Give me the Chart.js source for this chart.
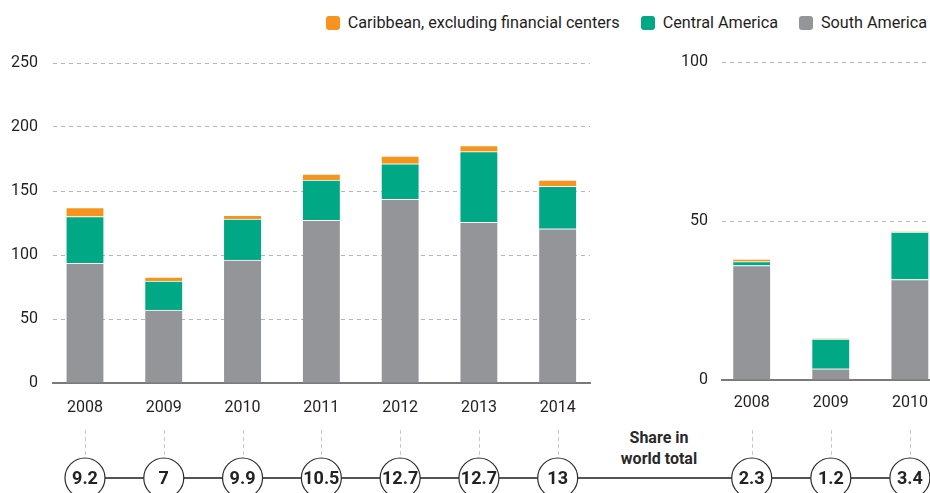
<!DOCTYPE html>
<html>
<head>
<meta charset="utf-8">
<script src="https://cdn.jsdelivr.net/npm/chart.js@4.4.1/dist/chart.umd.min.js"></script>
<style>
  html, body { margin: 0; padding: 0; background: #fff; }
  body { width: 930px; height: 493px; overflow: hidden; position: relative;
         font-family: Roboto, "Liberation Sans", sans-serif; color: #231f20; }
  #legend { position: absolute; top: 13px; right: 3px; display: flex; align-items: center; font-size: 16.2px; white-space: nowrap; color: #1e1e1e; }
  .item { display: flex; align-items: center; margin-left: 21px; }
  .sw { width: 14px; height: 14px; border-radius: 3px; margin-right: 8px; }
  #share { position: absolute; left: 609px; width: 100px; top: 427px; text-align: center; font-size: 16px; font-weight: bold; line-height: 21px; color: #2a2a2a; }
  canvas { position: absolute; top: 0; }
  #left { left: 0; }
  #right { left: 640px; }
</style>
</head>
<body>
<div id="legend"></div>
<div id="share">Share in<br>world total</div>
<canvas id="left" width="640" height="493"></canvas>
<canvas id="right" width="340" height="493"></canvas>
<script>
// ---------- data ----------
const seriesNames = ['Caribbean, excluding financial centers', 'Central America', 'South America'];
const seriesColors = ['#f7941d', '#00a886', '#939598'];

const yearsLeft = ['2008', '2009', '2010', '2011', '2012', '2013', '2014'];
const southAmericaLeft = [93.5, 57, 96, 127, 143.5, 125.5, 120.5];
const centralAmericaLeft = [36.5, 22.7, 32, 31.6, 27.8, 55.2, 33.1];
const caribbeanLeft = [7, 3.1, 3, 4.7, 6, 4.7, 5];
const shareLeft = [9.2, 7, 9.9, 10.5, 12.7, 12.7, 13];
const yTicksLeft = [0, 50, 100, 150, 200, 250];

const yearsRight = ['2008', '2009', '2010'];
const southAmericaRight = [36, 3.5, 31.6];
const centralAmericaRight = [1.2, 9.4, 14.9];
const caribbeanRight = [0.8, 0, 0];
const shareRight = [2.3, 1.2, 3.4];
const yTicksRight = [0, 50, 100];

// ---------- legend ----------
const legendEl = document.getElementById('legend');
seriesNames.forEach((n, i) => {
  const it = document.createElement('div'); it.className = 'item';
  const sw = document.createElement('div'); sw.className = 'sw'; sw.style.background = seriesColors[i];
  const tx = document.createElement('span'); tx.textContent = n;
  it.appendChild(sw); it.appendChild(tx); legendEl.appendChild(it);
});

const FONT = 'Roboto, "Liberation Sans", sans-serif';

const shareRowPlugin = {
  id: 'shareRow',
  afterDraw(chart, args, o) {
    const ctx = chart.ctx;
    const xs = chart.scales.x;
    const px = chart.data.labels.map(y => xs.getPixelForValue(Number(y)));
    const cy = o.cy, r = o.r;
    ctx.save();
    ctx.strokeStyle = '#c9c9c9'; ctx.lineWidth = 1; ctx.setLineDash([4, 3]);
    px.forEach(x => { const xx = Math.round(x) + 0.5; ctx.beginPath(); ctx.moveTo(xx, o.dashTop); ctx.lineTo(xx, cy - r); ctx.stroke(); });
    ctx.setLineDash([]);
    ctx.strokeStyle = '#555'; ctx.lineWidth = 2;
    ctx.beginPath();
    ctx.moveTo(o.fromEdge ? 0 : px[0], cy);
    ctx.lineTo(o.toEdge ? chart.width : px[px.length - 1], cy);
    ctx.stroke();
    px.forEach((x, i) => {
      ctx.beginPath(); ctx.arc(x, cy, r, 0, Math.PI * 2);
      ctx.fillStyle = '#fff'; ctx.fill();
      ctx.strokeStyle = '#2b2b2b'; ctx.lineWidth = 1.2; ctx.stroke();
      ctx.fillStyle = '#222'; ctx.font = 'bold 18px ' + FONT;
      ctx.textAlign = 'center'; ctx.textBaseline = 'middle';
      ctx.fillText(String(o.values[i]), x, cy + 1);
    });
    ctx.restore();
  }
};

function makeChart(id, cfg) {
  const ds = [
    { label: seriesNames[2], data: cfg.south, backgroundColor: seriesColors[2] },
    { label: seriesNames[1], data: cfg.central, backgroundColor: seriesColors[1] },
    { label: seriesNames[0], data: cfg.carib, backgroundColor: seriesColors[0] }
  ].map(d => Object.assign(d, {
    barThickness: 37, borderColor: '#ffffff', borderSkipped: false,
    borderWidth: c => (c.raw > 0 ? { top: 1, left: 0, right: 0, bottom: 0 } : 0)
  }));
  return new Chart(document.getElementById(id), {
    type: 'bar',
    data: { labels: cfg.years, datasets: ds },
    plugins: [shareRowPlugin],
    options: {
      responsive: false, animation: false, events: [],
      layout: { padding: { top: cfg.top, right: cfg.padRight, bottom: 0, left: 0 } },
      plugins: { legend: { display: false }, tooltip: { enabled: false },
        shareRow: { values: cfg.share, cy: 478, r: 20, dashTop: 430, fromEdge: cfg.fromEdge, toEdge: cfg.toEdge } },
      scales: {
        x: {
          type: 'linear', stacked: true, offset: false, min: cfg.xmin, max: cfg.xmax,
          afterFit: s => { s.height = cfg.xAxisH; },
          grid: { display: false, drawTicks: false, offset: false },
          border: { display: true, color: '#7a7a7a', width: 2 },
          ticks: { stepSize: 1, includeBounds: false, autoSkip: false, maxRotation: 0,
                   padding: cfg.xPad, color: '#231f20', font: { family: FONT, size: 16 },
                   callback: v => String(v) }
        },
        y: {
          stacked: true, min: 0, max: cfg.yTicks[cfg.yTicks.length - 1],
          afterFit: s => { s.width = cfg.yAxisW; },
          afterBuildTicks: s => { s.ticks = cfg.yTicks.map(v => ({ value: v })); },
          grid: { drawTicks: false, lineWidth: 1, color: c => c.tick && c.tick.value === 0 ? 'rgba(0,0,0,0)' : '#b5b5b5' },
          border: { display: false, dash: [4, 4] },
          ticks: { padding: cfg.yPad, color: '#231f20', font: { family: FONT, size: 16 } }
        }
      }
    }
  });
}

makeChart('left', {
  years: yearsLeft, south: southAmericaLeft, central: centralAmericaLeft, carib: caribbeanLeft,
  share: shareLeft, yTicks: yTicksLeft,
  top: 63, padRight: 50, xAxisH: 110, yAxisW: 53, yPad: 15, xPad: 15,
  xmin: 2007.594, xmax: 2014.41, fromEdge: false, toEdge: true
});

makeChart('right', {
  years: yearsRight, south: southAmericaRight, central: centralAmericaRight, carib: caribbeanRight,
  share: shareRight, yTicks: yTicksRight,
  top: 62, padRight: 10, xAxisH: 113, yAxisW: 82, yPad: 14, xPad: 13,
  xmin: 2007.624, xmax: 2010.76, fromEdge: true, toEdge: false
});
</script>
</body>
</html>
